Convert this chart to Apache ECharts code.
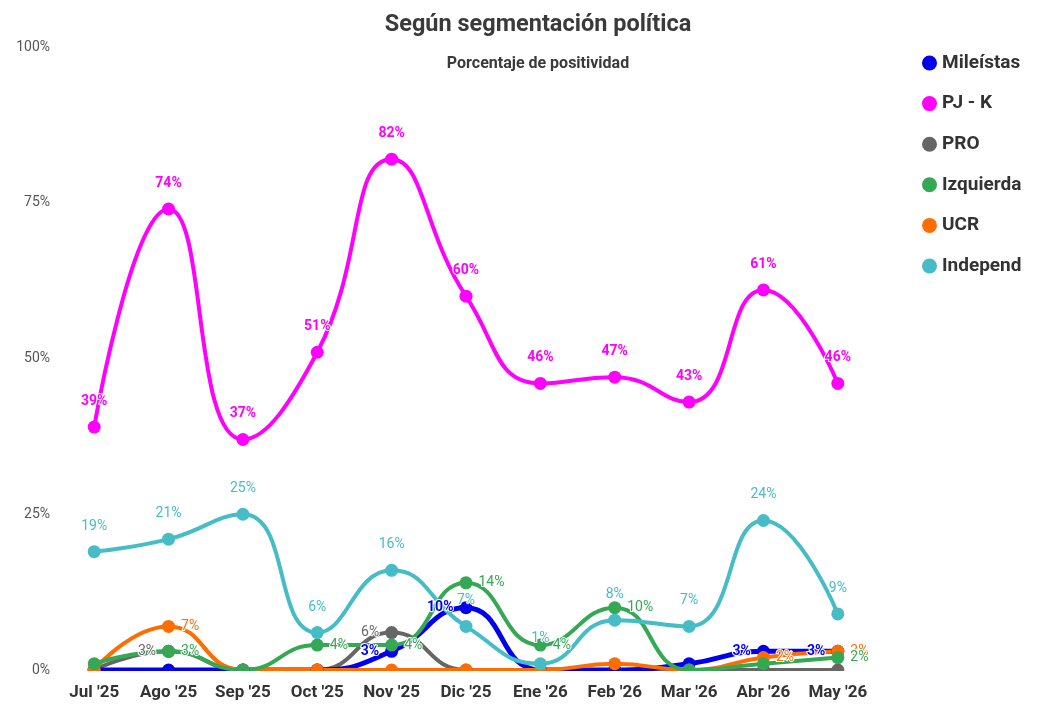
<!DOCTYPE html>
<html>
<head>
<meta charset="utf-8">
<script src="https://cdn.jsdelivr.net/npm/echarts@6/dist/echarts.min.js"></script>
<style>
  html, body { margin: 0; padding: 0; background: #fff; }
  #main { width: 1045px; height: 708px; }
</style>
</head>
<body>
<div id="main"></div>
<script>
// categorías (meses)
var meses = ["Jul '25", "Ago '25", "Sep '25", "Oct '25", "Nov '25", "Dic '25", "Ene '26", "Feb '26", "Mar '26", "Abr '26", "May '26"];

// valores por segmento (%)
var mileistas = [0, 0, 0, 0, 3, 10, 0, 0, 1, 3, 3];
var pjk       = [39, 74, 37, 51, 82, 60, 46, 47, 43, 61, 46];
var pro       = [0, 3, 0, 0, 6, 0, 0, 0, 0, 0, 0];
var izquierda = [1, 3, 0, 4, 4, 14, 4, 10, 0, 1, 2];
var ucr       = [0, 7, 0, 0, 0, 0, 0, 1, 0, 2, 3];
var independ  = [19, 21, 25, 6, 16, 7, 1, 8, 7, 24, 9];

var yTicks = [0, 25, 50, 75, 100];

var fuente = 'Roboto, "Liberation Sans", sans-serif';
var angosta = '"Liberation Sans Narrow", Roboto, sans-serif';

function serie(nombre, datos, color, pos, minLabel, bold, ancho) {
    return {
        name: nombre,
        type: 'line',
        smooth: true,
        data: datos,
        symbol: 'circle',
        symbolSize: 13,
        lineStyle: { width: ancho || 4, color: color },
        itemStyle: { color: color },
        label: {
            show: true,
            position: pos,
            distance: pos === 'top' ? 12 : 6,
            color: color,
            fontFamily: fuente,
            fontSize: 14,
            fontWeight: bold ? 'bold' : 'normal',
            textBorderColor: '#fff',
            textBorderWidth: 2,
            formatter: function (p) {
                return p.value >= minLabel ? p.value + '%' : '';
            }
        }
    };
}

var myChart = echarts.init(document.getElementById('main'));
myChart.setOption({
    animation: false,
    title: {
        text: 'Según segmentación política',
        subtext: 'Porcentaje de positividad',
        left: 533,
        textAlign: 'center',
        top: 8,
        itemGap: 19,
        textStyle: { fontFamily: fuente, fontSize: 23.5, fontWeight: 'bold', color: '#3a3a3a' },
        subtextStyle: { fontFamily: fuente, fontSize: 16, fontWeight: 'bold', color: '#3a3a3a' }
    },
    legend: {
        orient: 'vertical',
        left: 917,
        top: 48,
        itemWidth: 15,
        itemHeight: 15,
        itemGap: 20.6,
        icon: 'circle',
        textStyle: { fontFamily: fuente, fontSize: 19, lineHeight: 20, fontWeight: 'bold', color: '#333' },
        data: ['Mileístas', 'PJ - K', 'PRO', 'Izquierda', 'UCR', 'Independ']
    },
    grid: { left: 57, right: 170, top: 47, bottom: 38 },
    xAxis: {
        type: 'category',
        data: meses,
        boundaryGap: true,
        axisLine: { show: false },
        axisTick: { show: false },
        axisLabel: { interval: 0, fontFamily: fuente, fontSize: 17, fontWeight: 'bold', color: '#333', margin: 14 }
    },
    yAxis: {
        type: 'value',
        min: yTicks[0],
        max: yTicks[yTicks.length - 1],
        interval: 25,
        splitLine: { show: false },
        axisLabel: { fontFamily: angosta, fontSize: 14, color: '#555', margin: 7, formatter: '{value}%' }
    },
    // la base del gráfico recorta las marcas en 0%
    graphic: [{
        type: 'rect',
        z: 100,
        shape: { x: 50, y: 671, width: 840, height: 9 },
        style: { fill: '#fff' }
    }],
    series: [
        serie('PRO', pro, '#666666', 'left', 2, false),
        serie('Mileístas', mileistas, '#0000ee', 'left', 2, true, 5),
        serie('UCR', ucr, '#ff6d01', 'right', 2, false),
        serie('Izquierda', izquierda, '#34a853', 'right', 2, false),
        serie('Independ', independ, '#46bdc6', 'top', 1, false),
        serie('PJ - K', pjk, '#ff00ff', 'top', 1, true)
    ]
});
</script>
</body>
</html>
